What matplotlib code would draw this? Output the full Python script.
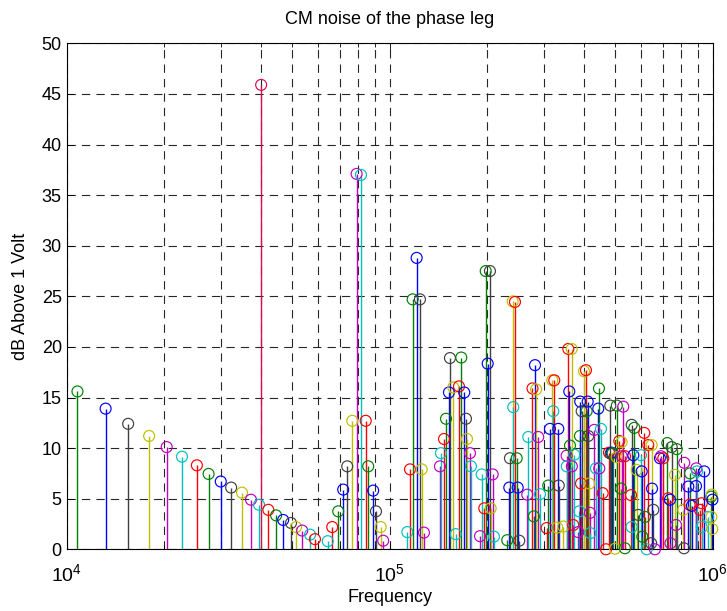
import numpy as np
import matplotlib
matplotlib.use("Agg")
import matplotlib.pyplot as plt
from matplotlib.ticker import LogLocator, NullFormatter, FixedLocator

plt.rcParams['font.family'] = ['Liberation Sans', 'DejaVu Sans']
plt.rcParams['mathtext.default'] = 'regular'

# harmonic clusters: frequency (kHz), level (dB), stem colour code
f_low = [10.8, 13.2, 15.5, 18.0, 20.4, 22.75, 25.3, 27.5, 30.0, 32.3, 34.9, 37.2, 39.4, 40.0,
         42.1, 44.5, 46.8, 49.5, 51.3, 53.6, 56.7, 58.7]
db_low = [15.6, 13.9, 12.4, 11.2, 10.1, 9.15, 8.3, 7.45, 6.7, 6.1, 5.6, 4.9, 4.4, 45.9,
          3.9, 3.35, 2.9, 2.6, 2.2, 1.85, 1.45, 1.0]
c_low = "gbkymcrgbkymcprgbkymcr"

f_80 = [64.3, 66.4, 69.3, 71.8, 73.9, 76.6, 79.0, 81.5, 84.3, 85.8, 88.9, 90.7, 93.8, 95.5]
db_80 = [0.8, 2.2, 3.75, 5.9, 8.2, 12.7, 37.1, 37.0, 12.7, 8.2, 5.8, 3.75, 2.2, 0.85]
c_80 = "crgbkymcrgbkym"

f_120 = [113.4, 115.6, 117.8, 121.2, 124.1, 125.6, 127.7]
db_120 = [1.7, 7.9, 24.7, 28.8, 24.7, 7.9, 1.65]
c_120 = "crgbkym"

f_160 = [143.1, 144.1, 147.3, 149.4, 152.6, 153.7, 157.4, 160.1, 163.9, 166.6, 170.2, 172.3,
         173.5, 177.3, 178.5]
db_160 = [8.2, 9.5, 10.9, 12.9, 15.5, 18.9, 16.0, 1.5, 16.1, 18.95, 15.5, 12.9, 10.9, 9.5, 8.2]
c_160 = "mcrgbkycrgbkymc"

f_200 = [190.4, 192.7, 196.3, 198.3, 201.1, 204.4, 205.4, 208.4, 210.3]
db_200 = [1.3, 7.4, 4.05, 27.5, 18.35, 27.5, 4.05, 7.4, 1.25]
c_200 = "mcrgbkymc"

f_240 = [231.2, 234.6, 235.7, 240.3, 241.3, 244.3, 247.3, 249.1, 251.9]
db_240 = [0.9, 6.1, 9.0, 24.5, 14.05, 24.45, 9.0, 6.1, 0.85]
c_240 = "gbkycrgbk"

f_280 = [266.7, 268.6, 276.8, 279.5, 281.8, 284.0, 288.4, 291.9]
db_280 = [5.4, 11.1, 15.9, 3.25, 18.2, 15.8, 11.1, 5.45]
c_280 = "mcrgbymc"

f_320 = [306.2, 309.7, 313.5, 318.7, 321.0, 323.3, 330.3, 332.7, 333.8]
db_320 = [2.1, 6.3, 11.9, 16.7, 13.65, 16.7, 2.15, 11.9, 6.3]
c_320 = "rgbycrybk"

f_360 = [344.8, 353.0, 353.5, 357.3, 359.8, 361.6, 366.0, 366.5, 370.2, 372.9]
db_360 = [2.25, 9.25, 8.2, 19.8, 15.6, 10.25, 19.8, 8.2, 2.4, 9.35]
c_360 = "ymcrbgymrc"

f_400 = [383.6, 386.4, 388.3, 389.0, 391.1, 393.0, 399.5, 405.2, 407.3, 410.2, 412.0, 414.9,
         417.0, 418.0]
db_400 = [1.7, 3.75, 11.2, 14.6, 6.5, 13.65, 17.6, 17.7, 13.65, 14.6, 11.2, 6.5, 3.6, 1.6]
c_400 = "mcgbrkyrgbkymc"

f_440 = [429.9, 435.2, 442.4, 444.6, 445.6, 451.0, 456.5, 467.4]
db_440 = [11.8, 8.0, 13.9, 15.9, 8.0, 11.9, 5.55, 0.0]
c_440 = "mcbgmcrr"

f_high = [477.5, 482.0, 483.3, 486.7, 490.2, 498.4, 504.5, 505.0, 514.0, 520.0, 522.6, 523.0,
          528.6, 535.2, 535.0, 558.6, 561.4, 561.0, 568.0, 571.9, 581.8, 588.5, 599.8, 602.8,
          605.5, 614.1, 617.2, 624.8, 631.9, 645.0, 647.3, 649.0, 654.8, 662.6, 686.8, 691.8,
          703.1, 723.5, 728.7, 737.6, 740.0, 746.7, 764.4, 770.0, 773.7, 811.0, 815.0, 816.6,
          840.6, 848.0, 851.0, 862.0, 888.0, 890.0, 895.0, 913.0, 925.0, 924.7, 941.9, 969.0,
          990.0, 993.0, 990.5, 997.0, 998.0]
db_high = [9.55, 14.2, 9.45, 9.55, 9.5, 0.05, 9.1, 14.2, 10.7, 6.0, 10.6, 9.2,
           14.1, 9.2, 0.1, 5.35, 12.3, 2.2, 9.3, 12.0, 7.85, 3.4, 9.3, 7.7,
           1.25, 11.5, 3.2, 0.0, 10.3, 0.6, 10.3, 6.0, 3.9, 0.0, 9.0, 9.2,
           9.0, 10.5, 5.05, 4.9, 0.6, 10.1, 7.35, 2.4, 9.9, 3.9, 0.1, 8.55,
           6.2, 4.4, 7.5, 4.3, 6.25, 8.0, 7.7, 3.9, 4.55, 2.2, 7.7, 3.2,
           5.2, 5.4, 3.2, 2.0, 4.9]
c_high = ("rkkbgyygrgymmrgrkcbgykcbgrgcrkybkmbmrgrbmkymgykmbrgbbmcrrcbcgyyyb")

colour_map = {
    'g': (0.0, 0.5, 0.0),
    'b': (0.0, 0.0, 1.0),
    'k': (0.25, 0.25, 0.25),
    'y': (0.75, 0.75, 0.0),
    'm': (0.75, 0.0, 0.75),
    'c': (0.0, 0.75, 0.75),
    'r': (1.0, 0.0, 0.0),
    'p': (0.85, 0.05, 0.3),
}

freqs = np.array(f_low + f_80 + f_120 + f_160 + f_200 + f_240 + f_280 + f_320 + f_360
                 + f_400 + f_440 + f_high) * 1e3
levels = np.array(db_low + db_80 + db_120 + db_160 + db_200 + db_240 + db_280 + db_320
                  + db_360 + db_400 + db_440 + db_high)
codes = (c_low + c_80 + c_120 + c_160 + c_200 + c_240 + c_280 + c_320 + c_360 + c_400
         + c_440 + c_high)
cols = [colour_map[c] for c in codes]

fig = plt.figure(figsize=(7.27, 6.11), dpi=100)
ax = fig.add_axes([0.0917, 0.101, 0.8886, 0.828])

ax.vlines(freqs, 0, levels, colors=cols, linewidth=1.0, zorder=3)
ax.scatter(freqs, levels, s=62, facecolors='none', edgecolors=cols,
           linewidths=0.85, zorder=4, clip_on=False)

ax.set_xscale('log')
ax.set_xlim(1e4, 1e6)
ax.set_ylim(0, 50)
ax.set_yticks(np.arange(0, 51, 5))
ax.xaxis.set_major_locator(FixedLocator([1e4, 1e5, 1e6]))
ax.xaxis.set_minor_locator(LogLocator(base=10, subs=np.arange(2, 10)))
ax.xaxis.set_minor_formatter(NullFormatter())
ax.set_xticklabels([r'$10^{4}$', r'$10^{5}$', r'$10^{6}$'])

gls = (0, (7.5, 5.5))
ax.set_axisbelow(True)
ax.grid(True, which='both', axis='x', color='0.15', linestyle=gls, linewidth=0.8)
ax.grid(True, which='major', axis='y', color='0.15', linestyle=gls, linewidth=0.8)

ax.tick_params(which='both', direction='in', top=True, right=True, labelsize=13, width=0.6)
ax.tick_params(which='major', length=5)
ax.tick_params(which='minor', length=3)
ax.tick_params(axis='x', which='major', pad=10, labelsize=14)
for sp in ax.spines.values():
    sp.set_linewidth(0.8)

ax.set_title("CM noise of the phase leg", fontsize=13, pad=14)
ax.set_xlabel("Frequency", fontsize=13, labelpad=3)
ax.set_ylabel("dB Above 1 Volt", fontsize=13, labelpad=9)

fig.savefig("out.png", dpi=100)
